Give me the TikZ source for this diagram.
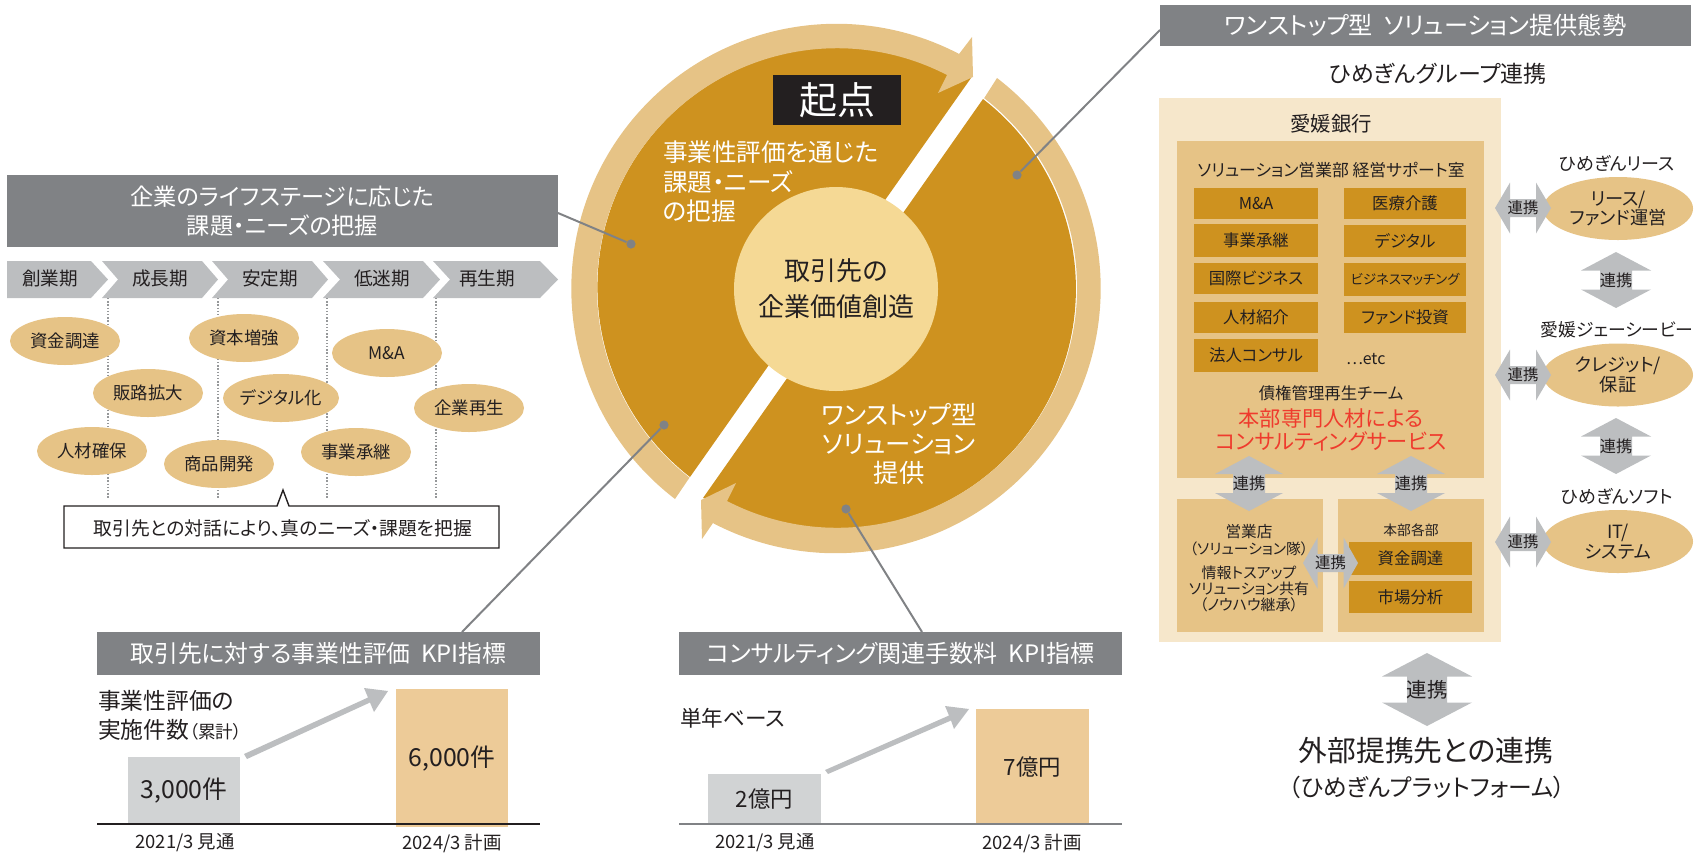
\documentclass[tikz,border=0pt]{standalone}
\usepackage{fontspec}
\setmainfont{Noto Sans CJK JP}[RawFeature={+palt}]
\usetikzlibrary{shapes.geometric}
\definecolor{gold}{HTML}{CE921F}
\definecolor{ring}{HTML}{E6C386}
\definecolor{pale}{HTML}{F6E7CB}
\definecolor{hdr}{HTML}{808285}
\definecolor{chev}{HTML}{BCBEC0}
\definecolor{barg}{HTML}{D1D3D4}
\definecolor{baro}{HTML}{EDCB98}
\definecolor{core}{HTML}{F5D995}
\definecolor{ink}{HTML}{231F20}
\definecolor{redt}{HTML}{EF3B2D}
\newcommand{\fsz}[1]{\fontsize{#1}{#1}\selectfont}
\tikzset{
  txt/.style={inner sep=0pt,outer sep=0pt,text=ink,align=center},
  txtl/.style={txt,anchor=west,align=left},
  whitet/.style={txt,text=white},
  oval/.style={ellipse,fill=ring,inner sep=0pt,outer sep=0pt,text=ink,align=center,minimum width=55pt,minimum height=24pt,font=\fsz{8.7}},
  oval2/.style={oval,minimum width=75pt,minimum height=31.5pt},
  goldbox/.style={fill=gold,text=ink,font=\fsz{8.2}},
  header/.style={fill=hdr,text=white},
  leader/.style={draw=hdr,line width=1pt},
  dotn/.style={circle,fill=hdr,inner sep=0pt,minimum size=4.6pt},
  stagedots/.style={draw=chev!80!black,line width=1pt,dash pattern=on 0.7pt off 0.9pt},
  bararrow/.style={fill=chev},
}
% name x1 y1 x2 y2 style text
\newcommand{\rbox}[7]{\node[inner sep=0pt,outer sep=0pt,align=center,#6,minimum width={(#4-#2)*0.5pt},minimum height={(#5-#3)*0.5pt}] (#1) at ({(#2+#4)/2},{(#3+#5)/2}) {#7};}
% [font] name cx cy halflen headend headhalf shafthalf
\newcommand{\vlink}[8][8.1]{\fill[chev] ({#3},{#4-#5}) -- ({#3+#7},{#4-#6}) -- ({#3+#8},{#4-#6}) -- ({#3+#8},{#4+#6}) -- ({#3+#7},{#4+#6}) -- ({#3},{#4+#5}) -- ({#3-#7},{#4+#6}) -- ({#3-#8},{#4+#6}) -- ({#3-#8},{#4-#6}) -- ({#3-#7},{#4-#6}) -- cycle;
\node[txt,font=\fsz{#1}] (#2) at (#3,#4) {連携};}
\newcommand{\hlink}[8][7.7]{\fill[chev] ({#3-#5},{#4}) -- ({#3-#6},{#4+#7}) -- ({#3-#6},{#4+#8}) -- ({#3+#6},{#4+#8}) -- ({#3+#6},{#4+#7}) -- ({#3+#5},{#4}) -- ({#3+#6},{#4-#7}) -- ({#3+#6},{#4-#8}) -- ({#3-#6},{#4-#8}) -- ({#3-#6},{#4-#7}) -- cycle;
\node[txt,font=\fsz{#1}] (#2) at (#3,#4) {連携};}
\begin{document}
\begin{tikzpicture}[x=0.5pt,y=-0.5pt]
\useasboundingbox (0,0) rectangle (1700,852);
% ---------- central wheel
\fill[gold] (690,477) arc[start angle=127.9,end angle=297.3,radius=240] -- (971,78) -- cycle;
\fill[gold] (983,99) arc[start angle=307.8,end angle=477.3,radius=240] -- (703,498) -- cycle;
\fill[ring] (675,499) arc[start angle=127.5,end angle=297.6,radius=265] -- (972,37) -- (973,77) -- (938,93) -- (947,75) arc[start angle=297.3,end angle=127.9,radius=240] -- cycle;
\fill[ring] (997,78) arc[start angle=307.5,end angle=477.6,radius=265] -- (702,539) -- (701,500) -- (736,483) -- (727,501) arc[start angle=477.3,end angle=307.8,radius=240] -- cycle;
\node[circle,fill=core,inner sep=0pt,minimum size=102pt,text=ink,align=center,font=\fontsize{13}{18}\selectfont] (core) at (836,289) {取引先の\\企業価値創造};
\rbox{kiten}{773}{75}{901}{125}{fill=ink,text=white,font=\fsz{19}}{起点}
\node[txtl,text=white,font=\fontsize{12.3}{14.7}\selectfont] (evalt) at (663,182) {事業性評価を通じた\\課題・ニーズ\\の把握};
\node[whitet,font=\fontsize{12.7}{14.7}\selectfont] (solt) at (899,444) {ワンストップ型\\ソリューション\\提供};
% ---------- left header and stages
\rbox{hdrA}{7}{175}{558}{247}{header,font=\fontsize{11.6}{14.4}\selectfont}{企業のライフステージに応じた\\課題・ニーズの把握}
\fill[chev] (7,261) -- (91,261) -- (108,279.5) -- (91,298) -- (7,298) -- cycle;
\fill[chev] (102,261) -- (202,261) -- (218,279.5) -- (202,298) -- (102,298) -- (118,279.5) -- cycle;
\fill[chev] (212,261) -- (312,261) -- (328,279.5) -- (312,298) -- (212,298) -- (228,279.5) -- cycle;
\fill[chev] (323,261) -- (423,261) -- (440,279.5) -- (423,298) -- (323,298) -- (340,279.5) -- cycle;
\fill[chev] (433,261) -- (540,261) -- (558,279.5) -- (540,298) -- (433,298) -- (450,279.5) -- cycle;
\node[txt,font=\fsz{9.3}] (s1) at (50,278) {創業期};
\node[txt,font=\fsz{9.3}] (s2) at (160,278) {成長期};
\node[txt,font=\fsz{9.3}] (s3) at (270,278) {安定期};
\node[txt,font=\fsz{9.3}] (s4) at (382,278) {低迷期};
\node[txt,font=\fsz{9.3}] (s5) at (487,278) {再生期};
\coordinate (v1a) at (108,298); \coordinate (v1b) at (108,498);
\coordinate (v2a) at (218,298); \coordinate (v2b) at (218,498);
\coordinate (v3a) at (327,298); \coordinate (v3b) at (327,498);
\coordinate (v4a) at (436,298); \coordinate (v4b) at (436,498);
\draw[stagedots] (v1a) -- (v1b);
\draw[stagedots] (v2a) -- (v2b);
\draw[stagedots] (v3a) -- (v3b);
\draw[stagedots] (v4a) -- (v4b);
\node[oval] (e1) at (65,341) {資金調達};
\node[oval] (e2) at (148,393) {販路拡大};
\node[oval] (e3) at (92,451) {人材確保};
\node[oval] (e4) at (219,464) {商品開発};
\node[oval] (e5) at (244,338) {資本増強};
\node[oval,minimum width=58pt] (e6) at (281,398) {デジタル化};
\node[oval] (e7) at (387,353) {M\&A};
\node[oval] (e8) at (356,452) {事業承継};
\node[oval] (e9) at (469,408) {企業再生};
\draw[fill=white,draw=ink,line width=0.7pt] (64,506) -- (277,506) -- (283,490) -- (289,506) -- (499,506) -- (499,548) -- (64,548) -- cycle;
\node[txt,font=\fsz{9.4}] (talk) at (283,528) {取引先との対話により、真のニーズ・課題を把握};
% ---------- leaders
\node[dotn] (d1) at (631,244) {};
\node[dotn] (d2) at (664,425) {};
\node[dotn] (d3) at (1017,175) {};
\node[dotn] (d4) at (846,509) {};
\coordinate (l1) at (558,213);
\coordinate (l2) at (462,632);
\coordinate (l3) at (1160,30);
\coordinate (l4) at (922,632);
\draw[leader] (l1) -- (d1);
\draw[leader] (l2) -- (d2);
\draw[leader] (l3) -- (d3);
\draw[leader] (l4) -- (d4);
% ---------- KPI 1
\rbox{hdrB}{97}{632}{540}{675}{header,font=\fsz{11.9}}{取引先に対する事業性評価\ \ KPI指標}
\node[txtl,font=\fontsize{11.4}{14.5}\selectfont] (t1) at (98,715) {事業性評価の\\実施件数{\fsz{8.8}（累計）}};
\rbox{b1}{128}{757}{240}{824}{fill=barg,text=ink,font=\fsz{12.4}}{3,000件}
\rbox{b2}{396}{689}{508}{827}{fill=baro,text=ink,font=\fsz{12.4}}{6,000件}
\coordinate (ax1a) at (97,824); \coordinate (ax1b) at (540,824);
\draw[ink,line width=0.8pt] (ax1a) -- (ax1b);
\node[txt,font=\fsz{9.2}] (y1) at (185,843) {2021/3 見通};
\node[txt,font=\fsz{9.2}] (y2) at (452,843) {2024/3 計画};
\fill[bararrow] (244,754) -- (368,697.5) -- (364,688) -- (388,691) -- (374,712) -- (370,702.5) -- (247,759) -- cycle;
% ---------- KPI 2
\rbox{hdrC}{679}{632}{1122}{675}{header,font=\fsz{12}}{コンサルティング関連手数料\ \ KPI指標}
\node[txtl,font=\fsz{10.8}] (t2) at (680,718) {単年ベース};
\rbox{b3}{708}{774}{821}{824}{fill=barg,text=ink,font=\fsz{11.2}}{2億円}
\rbox{b4}{976}{709}{1089}{825}{fill=baro,text=ink,font=\fsz{11.2}}{7億円}
\coordinate (ax2a) at (679,824); \coordinate (ax2b) at (1122,824);
\draw[hdr,line width=0.9pt] (ax2a) -- (ax2b);
\node[txt,font=\fsz{9.2}] (y3) at (765,843) {2021/3 見通};
\node[txt,font=\fsz{9.2}] (y4) at (1032,843) {2024/3 計画};
\fill[bararrow] (825,770) -- (949,715.5) -- (945,706) -- (969,709) -- (954,729) -- (951,720.5) -- (828,774) -- cycle;
% ---------- right panel
\rbox{hdrD}{1160}{5}{1691}{46}{header,font=\fsz{12.1}}{ワンストップ型\ \ ソリューション提供態勢}
\node[txt,font=\fsz{11.5}] (grp) at (1438,74) {ひめぎんグループ連携};
\rbox{bank}{1159}{98}{1501}{642}{fill=pale}{}
\rbox{up}{1177}{141}{1484}{478}{fill=ring}{}
\rbox{ll}{1177}{499}{1323}{632}{fill=ring}{}
\rbox{lr}{1338}{499}{1484}{632}{fill=ring}{}
\node[txt,font=\fsz{10.2}] (bankt) at (1331,124) {愛媛銀行};
\node[txt,font=\fsz{8.4}] (dept) at (1331,170) {ソリューション営業部 経営サポート室};
\rbox{g1}{1194}{188}{1318}{219}{goldbox}{M\&A}
\rbox{g2}{1194}{224}{1318}{257}{goldbox}{事業承継}
\rbox{g3}{1194}{263}{1318}{294}{goldbox}{国際ビジネス}
\rbox{g4}{1194}{302}{1318}{333}{goldbox}{人材紹介}
\rbox{g5}{1194}{339}{1318}{372}{goldbox}{法人コンサル}
\rbox{g6}{1344}{188}{1466}{219}{goldbox}{医療介護}
\rbox{g7}{1344}{225}{1466}{257}{goldbox}{デジタル}
\rbox{g8}{1344}{263}{1466}{296}{goldbox,font=\fsz{6.7}}{ビジネスマッチング}
\rbox{g9}{1344}{302}{1466}{333}{goldbox}{ファンド投資}
\node[txtl,font=\fsz{8}] (etc) at (1346,359) {…etc};
\node[txt,font=\fsz{8.2}] (debt) at (1331,393) {債権管理再生チーム};
\node[txt,text=redt,font=\fontsize{10.6}{11.4}\selectfont] (red) at (1331,430) {本部専門人材による\\コンサルティングサービス};
\node[txt,font=\fontsize{7.4}{8.2}\selectfont] (branch1) at (1249,540) {{\fsz{7.8}営業店}\\（ソリューション隊）};
\node[txt,font=\fontsize{7.5}{8.2}\selectfont] (branch2) at (1249,589) {情報トスアップ\\ソリューション共有\\（ノウハウ継承）};
\node[txt,font=\fsz{6.9}] (hq) at (1411,530) {本部各部};
\rbox{g10}{1349}{542}{1472}{575}{goldbox}{資金調達}
\rbox{g11}{1349}{581}{1472}{613}{goldbox}{市場分析}
\node[txt,font=\fsz{9}] (n1) at (1617,163) {ひめぎんリース};
\node[oval2,font=\fontsize{9.1}{9.8}\selectfont] (o1) at (1618,208.5) {リース/\\ファンド運営};
\node[txt,font=\fsz{8.9}] (n2) at (1617,330) {愛媛ジェーシービー};
\node[oval2,font=\fontsize{9.1}{10}\selectfont] (o2) at (1618,375) {クレジット/\\保証};
\node[txt,font=\fsz{9}] (n3) at (1617,496) {ひめぎんソフト};
\node[oval2,font=\fontsize{9.1}{10}\selectfont] (o3) at (1618,541.5) {IT/\\システム};
\vlink{k1}{1249}{483.5}{27.5}{9.5}{34}{16}
\vlink{k2}{1411}{483.5}{27.5}{9.5}{34}{16}
\hlink{k3}{1330.5}{563}{27.5}{13}{25.5}{9}
\hlink{k4}{1523}{208}{28}{13}{25.5}{9}
\hlink{k5}{1523}{375}{28}{13}{25.5}{9}
\hlink{k6}{1523}{542}{28}{13}{25.5}{9}
\vlink{k7}{1616}{280}{28}{9.5}{35}{16}
\vlink{k8}{1616}{446}{28}{9.5}{35}{16}
\vlink[10.2]{k9}{1427}{689.5}{36.5}{13}{45}{20}
\node[txt,font=\fontsize{14.4}{18}\selectfont] (ext) at (1426,751) {外部提携先との連携};
\node[txt,font=\fsz{11.9}] (plat) at (1427,787) {（ひめぎんプラットフォーム）};
\end{tikzpicture}
\end{document}
